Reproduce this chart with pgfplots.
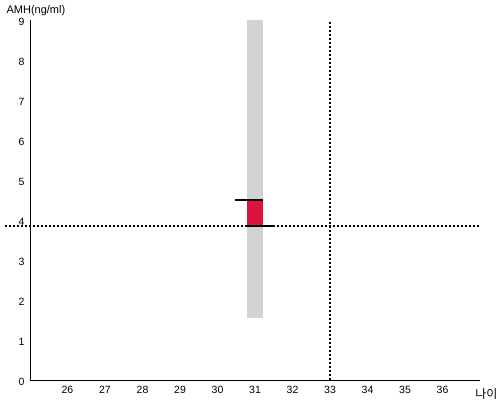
\documentclass[border=0pt]{standalone}
\usepackage{pgfplots}
\pgfplotsset{compat=1.18}
\usepackage{fontspec}
\setmainfont{Liberation Sans}
\newfontfamily\kr{Noto Sans CJK KR}
\definecolor{barred}{HTML}{DC143C}
\definecolor{bargray}{HTML}{D3D3D3}
\begin{document}
\begin{tikzpicture}
\path[use as bounding box] (0,0) rectangle (500pt,400pt);
\begin{axis}[
  at={(30pt,20pt)}, anchor=south west,
  scale only axis, width=450pt, height=360pt,
  xmin=25, xmax=37, ymin=0, ymax=9,
  xtick={26,...,36}, ytick={0,...,9},
  axis x line*=bottom, axis y line*=left,
  axis line style={-, line width=1pt},
  major tick length=0pt,
  tick label style={font=\fontsize{10.5}{12}\selectfont},
  /pgf/number format/assume math mode=true,
  xticklabel style={yshift=-3pt},
  yticklabel style={xshift=-2pt, yshift=-2pt},
  clip=false,
]
\addplot[fill=bargray, draw=none] coordinates {(30.79,1.55) (31.21,1.55) (31.21,9) (30.79,9)} -- cycle;
\addplot[fill=barred, draw=none] coordinates {(30.79,3.85) (31.21,3.85) (31.21,4.5) (30.79,4.5)} -- cycle;
\addplot[black, line width=2pt] coordinates {(30.47,4.5) (31.21,4.5)};
\addplot[black, line width=2pt] coordinates {(30.79,3.85) (31.53,3.85)};
\addplot[black, line width=1.6pt, dash pattern=on 2pt off 2pt] coordinates {(24.33,3.85) (37,3.85)};
\addplot[black, line width=1.6pt, dash pattern=on 2pt off 2pt] coordinates {(33,0) (33,9)};
\node[anchor=base west, inner sep=0pt, font=\fontsize{11}{13}\selectfont] at (axis cs:24.37,9.17) {AMH(ng/ml)};
\node[anchor=base west, inner sep=0pt, font=\fontsize{12}{14}\selectfont\kr] at (axis cs:36.87,-0.45) {나이};
\end{axis}
\end{tikzpicture}
\end{document}
